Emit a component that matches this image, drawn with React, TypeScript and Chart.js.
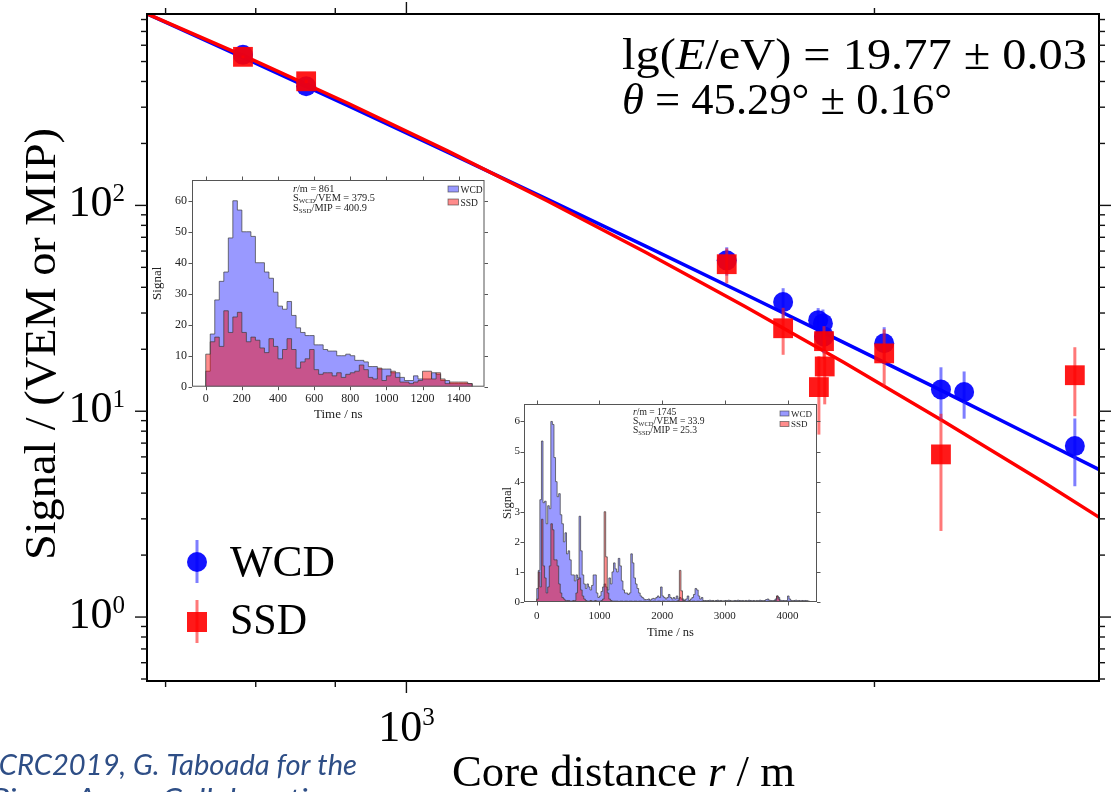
import React, { useEffect, useRef } from "react";
import { Chart, registerables } from "chart.js";

Chart.register(...registerables);

const SERIF = '"Liberation Serif", "DejaVu Serif", "Times New Roman", serif';
const SANS = 'Lato, "Open Sans", "Noto Sans", sans-serif';

// ---------------- main plot values ----------------
const wcdDistance = [785, 862, 1607, 1747, 1840, 1853, 1856, 2029, 2207, 2284, 2691];
const wcdSignal = [539, 379.5, 54.1, 33.9, 27.7, 26.7, 23.1, 21.4, 12.75, 12.4, 6.77];
const wcdError = [8, 7, 8.5, 5.7, 4, 4.5, 4, 4.2, 3.6, 3.2, 2.45];

const ssdDistance = [785, 862, 1607, 1747, 1856, 1858, 1842, 2029, 2207, 2691];
const ssdSignal = [527, 400.9, 51.8, 25.3, 21.9, 16.5, 13.1, 19.1, 6.17, 14.96];
const ssdError = [8, 8, 10, 6.5, 4, 5.7, 5.4, 5.9, 3.55, 5.5];

const fitDistance = [681.4, 792.6, 917.8, 1062.7, 1230.6, 1424.9, 1650, 1910.5, 2212.5, 2562, 2790];
const wcdFitSignal = [851.5, 506.9, 304.1, 181.4, 107.6, 63.43, 37.13, 21.62, 12.52, 7.19, 5.20];
const ssdFitSignal = [851.5, 518.3, 312.7, 183.9, 105.6, 59.2, 32.37, 17.28, 8.99, 4.58, 3.05];

const xLimits = [681, 2789];
const yLimits = [0.489, 851];
const xMajorTicks = [1000];
const xMajorExponents = ["3"];
const xMinorTicks = [700, 800, 900, 2000];
const yMajorTicks = [1, 10, 100];
const yMajorExponents = ["0", "1", "2"];
const yMinorTicks = [0.5, 0.6, 0.7, 0.8, 0.9, 2, 3, 4, 5, 6, 7, 8, 9, 20, 30, 40, 50, 60, 70, 80, 90, 200, 300, 400, 500, 600, 700, 800];

const xTitleParts = ["Core distance ", "r", " / m"];
const yTitleText = "Signal / (VEM or MIP)";
const energyParts = ["lg(", "E", "/eV) = 19.77 ± 0.03"];
const zenithParts = ["θ", " = 45.29° ± 0.16°"];
const legendLabels = ["WCD", "SSD"];
const creditLines = ["ICRC2019, G. Taboada for the", "Pierre Auger Collaboration"];

// ---------------- inset 1 (r = 861 m) ----------------
const inset1BinWidth = 25;
const inset1Wcd = [
  5, 17, 28, 34, 37, 48, 60, 57, 50, 50,
  48.5, 40, 40, 37, 35, 30.5, 26, 25, 27.5, 23,
  19, 17.5, 16.5, 16.5, 13.5, 13.5, 12, 11.5, 11.5, 10,
  10, 10.5, 10, 8.5, 8.5, 8, 6.5, 6.5, 5.7, 5.7,
  5.7, 4.5, 4.5, 3, 2, 2, 3.5, 2.5, 2.5, 2.5,
  4.5, 4, 2, 2, 1, 1, 1, 1, 1,
];
const inset1Ssd = [
  10.5, 14.5, 16, 13, 24.5, 17.5, 22.5, 24, 17.5, 14.5,
  16, 15, 12.5, 11, 15.5, 13, 9, 12, 15.5, 12,
  6, 8, 9, 12, 5.5, 4, 4.5, 4.5, 3.5, 4.5,
  3, 4, 4.5, 5, 7, 5.5, 3, 2.5, 6, 2,
  3.5, 5, 3, 1.5, 1.5, 1, 1.5, 2, 5, 5,
  2.5, 4.5, 2.5, 1, 1.5, 1.5, 1.5, 1.5, 1,
];
const inset1Info = ["861", "379.5", "400.9"];
const inset1XTicks = [0, 200, 400, 600, 800, 1000, 1200, 1400];
const inset1YTicks = [0, 10, 20, 30, 40, 50, 60];

// ---------------- inset 2 (r = 1745 m) ----------------
const inset2BinWidth = 25;
const inset2Wcd = [
  0.45, 1.05, 3.4, 5.35, 3.3, 3.35, 2.6, 3.2, 3.1, 6.0,
  5.9, 4.8, 4.0, 3.5, 3.6, 2.9, 2.6, 2.0, 2.3, 1.6,
  1.7, 1.4, 0.9, 0.9, 0.7, 0.9, 0.8, 2.85, 1.7, 0.9,
  0.6, 0.45, 0.6, 0.5, 0.4, 0.55, 0.9, 0.9, 0.3, 0.15,
  0.2, 0.35, 0.5, 0.6, 0.5, 0.4, 0.8, 0.6, 1.0, 1.3,
  1.1, 1.0, 1.45, 1.2, 0.7, 0.4, 0.3, 0.3, 0.25, 0.3,
  1.6, 1.3, 0.8, 0.6, 0.45, 0.3, 0.2, 0.15, 0.1, 0.08,
  0.08, 0.1, 0.06, 0.1, 0.12, 0.1, 0.15, 0.2, 0.15, 0.5,
  0.2, 0.15, 0.1, 0.15, 0.25, 0.15, 0.1, 0.15, 0.1, 0.2,
  0.1, 0.15, 0.1, 0.1, 0.05, 0.1, 0.2, 0.05, 0.1, 0.15,
  0.25, 0.45, 0.4, 0.2, 0.1, 0.15, 0.05, 0.05, 0.04, 0.05,
  0.06, 0.04, 0.05, 0.03, 0.05, 0.06, 0.04, 0.05, 0.03, 0.04,
  0.05, 0.04, 0.06, 0.05, 0.03, 0.04, 0.05, 0.04, 0.06, 0.05,
  0.04, 0.05, 0.03, 0.05, 0.04, 0.06, 0.05, 0.04, 0.05, 0.03,
  0.05, 0.04, 0.06, 0.05, 0.04, 0.05, 0.08, 0.1, 0.06, 0.05,
  0.04, 0.05, 0.1, 0.2, 0.15, 0.06, 0.05, 0.05, 0.04, 0.05,
  0.2, 0.1, 0.05, 0.04, 0.05, 0.06, 0.04, 0.05, 0.04, 0.05,
  0.04, 0.05, 0.04, 0.03,
];
const inset2Ssd = [
  0.1, 1.0, 0.5, 2.75, 1.2, 0.8, 0.3, 0.5, 1.2, 2.6,
  2.4, 1.4, 1.4, 1.2, 0.6, 0.3, 0.15, 0.1, 0.05, 0.05,
  0.05, 0.03, 0.03, 0.05, 0.05, 0.3, 0.75, 0.8, 0.4, 0.2,
  0.1, 0.05, 0.03, 0.03, 0.05, 0.03, 0.03, 0.05, 0.03, 0.03,
  0.03, 0.05, 0.1, 3.0, 1.5, 0.3, 0.1, 0.05, 0.03, 0.03,
  0.03, 0.03, 0.02, 0.03, 0.03, 0.02, 0.03, 0.03, 0.02, 0.03,
  0.03, 0.02, 0.03, 0.03, 0.02, 0.03, 0.03, 0.02, 0.03, 0.03,
  0.02, 0.03, 0.03, 0.02, 0.03, 0.03, 0.02, 0.03, 0.03, 0.02,
  0.03, 0.03, 0.02, 0.03, 0.03, 0.02, 0.03, 0.03, 0.02, 0.03,
  0.05, 1.05, 0.37, 0.05, 0.03, 0.02, 0.03, 0.03, 0.02, 0.03,
  0.03, 0.02, 0.03, 0.03, 0.02, 0.03, 0.03, 0.02, 0.03, 0.03,
  0.02, 0.03, 0.03, 0.02, 0.03, 0.03, 0.02, 0.03, 0.03, 0.02,
  0.03, 0.03, 0.02, 0.03, 0.03, 0.02, 0.03, 0.03, 0.02, 0.03,
  0.03, 0.02, 0.03, 0.03, 0.02, 0.03, 0.03, 0.02, 0.03, 0.03,
  0.02, 0.03, 0.03, 0.02, 0.03, 0.03, 0.02, 0.03, 0.03, 0.02,
  0.03, 0.03, 0.05, 0.2, 0.1, 0.03, 0.02, 0.03, 0.03, 0.02,
  0.03, 0.03, 0.02, 0.03, 0.03, 0.02, 0.03, 0.03, 0.02, 0.03,
  0.03, 0.02, 0.03, 0.02,
];
const inset2Info = ["1745", "33.9", "25.3"];
const inset2XTicks = [0, 1000, 2000, 3000, 4000];
const inset2YTicks = [0, 1, 2, 3, 4, 5, 6];

// ---------------- layout / style ----------------
const inset1Layout = {
  left: 145, top: 175, width: 345, height: 250,
  axisWidth: 47, axisHeight: 38.3, padTop: 5, padRight: 5.5,
  xMin: -76, xMax: 1543, yMax: 66.7,
  tickFont: 12, titleFont: 13, yTitlePad: 5, xTitlePad: 3, tickPadX: 5, tickPadY: 5,
  infoX: 293, infoY: 192, infoLine: 9.3, infoFont: 10.3,
  legendX: 448, legendY: 186, legendGap: 13, legendFont: 9.5, legendBoxW: 10.5, legendBoxH: 6,
};
const inset2Layout = {
  left: 490, top: 400, width: 335, height: 240,
  axisWidth: 34, axisHeight: 38, padTop: 4, padRight: 8,
  xMin: -203, xMax: 4470, yMax: 6.58,
  tickFont: 11, titleFont: 12.5, yTitlePad: 10, xTitlePad: 0, tickPadX: 8, tickPadY: 4,
  infoX: 633, infoY: 415, infoLine: 8.8, infoFont: 9.6,
  legendX: 780, legendY: 411, legendGap: 10.5, legendFont: 9, legendBoxW: 9, legendBoxH: 5,
};

const BLUE = "rgba(0,0,255,0.92)";
const RED = "rgba(255,0,0,0.9)";
const BLUE_ERR = "rgba(40,40,255,0.6)";
const RED_ERR = "rgba(255,30,30,0.6)";
const HIST_BLUE = "rgba(0,0,255,0.4)";
const HIST_RED = "rgba(255,0,0,0.45)";
const HIST_EDGE = "rgba(60,60,60,0.7)";

type Part = { text: string; font: string; dy?: number };

function drawParts(ctx: any, parts: Part[], x: number, y: number, align: string, targetWidth?: number) {
  ctx.save();
  let total = 0;
  const widths = parts.map((p) => {
    ctx.font = p.font;
    const w = ctx.measureText(p.text).width;
    total += w;
    return w;
  });
  const sx = targetWidth ? targetWidth / total : 1;
  const w = total * sx;
  const x0 = align === "left" ? x : align === "right" ? x - w : x - w / 2;
  ctx.translate(x0, y);
  ctx.scale(sx, 1);
  ctx.textAlign = "left";
  ctx.textBaseline = "alphabetic";
  let cx = 0;
  parts.forEach((p, i) => {
    ctx.font = p.font;
    ctx.fillText(p.text, cx, p.dy || 0);
    cx += widths[i];
  });
  ctx.restore();
}

const serif = (size: number, italic = false) => `${italic ? "italic " : ""}${size}px ${SERIF}`;

const mainDecor = {
  id: "mainDecor",
  beforeDatasetDraw(chart: any, args: any) {
    const ds = chart.data.datasets[args.index];
    if (!ds.errors) return;
    const { ctx, chartArea: a, scales } = chart;
    const ys = scales.y;
    ctx.save();
    ctx.beginPath();
    ctx.rect(a.left, a.top, a.right - a.left, a.bottom - a.top);
    ctx.clip();
    ctx.strokeStyle = ds.errorColor;
    ctx.lineWidth = 3;
    args.meta.data.forEach((pt: any, i: number) => {
      const v = ds.data[i].y;
      const e = ds.errors[i];
      const y1 = ys.getPixelForValue(v + e);
      const y2 = ys.getPixelForValue(Math.max(v - e, 1e-3));
      ctx.beginPath();
      ctx.moveTo(pt.x, y1);
      ctx.lineTo(pt.x, y2);
      ctx.stroke();
    });
    ctx.restore();
  },
  afterDraw(chart: any) {
    const { ctx, chartArea: a, scales } = chart;
    const xs = scales.x;
    const ys = scales.y;
    ctx.save();
    ctx.strokeStyle = "#000";
    ctx.lineWidth = 2;
    ctx.strokeRect(a.left, a.top, a.right - a.left, a.bottom - a.top);
    ctx.lineWidth = 1.4;
    ctx.strokeStyle = "#111";
    const seg = (x1: number, y1: number, x2: number, y2: number) => {
      ctx.beginPath();
      ctx.moveTo(x1, y1);
      ctx.lineTo(x2, y2);
      ctx.stroke();
    };
    yMajorTicks.forEach((v) => {
      const p = ys.getPixelForValue(v);
      seg(a.left - 12, p, a.left, p);
      seg(a.right, p, a.right + 12, p);
    });
    yMinorTicks.forEach((v) => {
      const p = ys.getPixelForValue(v);
      if (p < a.top || p > a.bottom) return;
      seg(a.left - 6, p, a.left, p);
      seg(a.right, p, a.right + 6, p);
    });
    xMajorTicks.forEach((v) => {
      const p = xs.getPixelForValue(v);
      seg(p, a.bottom, p, a.bottom + 12);
      seg(p, a.top - 12, p, a.top);
    });
    xMinorTicks.forEach((v) => {
      const p = xs.getPixelForValue(v);
      seg(p, a.bottom, p, a.bottom + 6);
      seg(p, a.top - 6, p, a.top);
    });
    ctx.fillStyle = "#000";
    yMajorTicks.forEach((v, i) => {
      const p = ys.getPixelForValue(v);
      drawParts(ctx, [
        { text: "10", font: serif(44) },
        { text: yMajorExponents[i], font: serif(25), dy: -15 },
      ], 125, p + 11, "right");
    });
    xMajorTicks.forEach((v, i) => {
      const p = xs.getPixelForValue(v);
      drawParts(ctx, [
        { text: "10", font: serif(44) },
        { text: xMajorExponents[i], font: serif(25), dy: -16 },
      ], p, 741, "center");
    });
    drawParts(ctx, [
      { text: xTitleParts[0], font: serif(44) },
      { text: xTitleParts[1], font: serif(44, true) },
      { text: xTitleParts[2], font: serif(44) },
    ], 452, 786, "left", 343);
    ctx.save();
    ctx.translate(55, 344);
    ctx.rotate(-Math.PI / 2);
    drawParts(ctx, [{ text: yTitleText, font: serif(44) }], 0, 0, "center", 432);
    ctx.restore();
    drawParts(ctx, [
      { text: energyParts[0], font: serif(45) },
      { text: energyParts[1], font: serif(45, true) },
      { text: energyParts[2], font: serif(45) },
    ], 622, 69, "left", 465);
    drawParts(ctx, [
      { text: zenithParts[0], font: serif(45, true) },
      { text: zenithParts[1], font: serif(45) },
    ], 622, 114, "left", 330);
    ctx.lineWidth = 3;
    ctx.strokeStyle = BLUE_ERR;
    seg(197, 540, 197, 583);
    ctx.fillStyle = BLUE;
    ctx.beginPath();
    ctx.arc(197, 562, 10, 0, Math.PI * 2);
    ctx.fill();
    ctx.strokeStyle = RED_ERR;
    seg(197, 600, 197, 643);
    ctx.fillStyle = RED;
    ctx.fillRect(187, 612, 20, 20);
    ctx.fillStyle = "#000";
    drawParts(ctx, [{ text: legendLabels[0], font: serif(44) }], 230, 576, "left", 105);
    drawParts(ctx, [{ text: legendLabels[1], font: serif(44) }], 230, 634, "left", 77);
    ctx.fillStyle = "#2E4E86";
    drawParts(ctx, [{ text: creditLines[0], font: `italic 29px ${SANS}` }], -9, 775, "left", 366);
    drawParts(ctx, [{ text: creditLines[1], font: `italic 29px ${SANS}` }], -9, 809, "left", 350);
    ctx.restore();
  },
};

function MainChart() {
  const ref = useRef<HTMLCanvasElement>(null);
  useEffect(() => {
    const chart = new Chart(ref.current as any, {
      type: "scatter",
      data: {
        datasets: [
          {
            label: "SSD",
            data: ssdDistance.map((r, i) => ({ x: r, y: ssdSignal[i] })),
            pointStyle: "rect",
            pointRadius: 14,
            pointHoverRadius: 14,
            backgroundColor: RED,
            borderWidth: 0,
            errors: ssdError,
            errorColor: RED_ERR,
          } as any,
          {
            label: "WCD",
            data: wcdDistance.map((r, i) => ({ x: r, y: wcdSignal[i] })),
            pointStyle: "circle",
            pointRadius: 10,
            pointHoverRadius: 10,
            backgroundColor: BLUE,
            borderWidth: 0,
            errors: wcdError,
            errorColor: BLUE_ERR,
          } as any,
          {
            label: "SSD fit",
            data: fitDistance.map((r, i) => ({ x: r, y: ssdFitSignal[i] })),
            showLine: true,
            pointRadius: 0,
            borderColor: "#ff0000",
            borderWidth: 3.5,
            fill: false,
          } as any,
          {
            label: "WCD fit",
            data: fitDistance.map((r, i) => ({ x: r, y: wcdFitSignal[i] })),
            showLine: true,
            pointRadius: 0,
            borderColor: "#0000ff",
            borderWidth: 3.5,
            fill: false,
          } as any,
        ],
      },
      options: {
        responsive: false,
        animation: false,
        events: [],
        layout: { padding: { left: 0, top: 12, right: 5, bottom: 0 } },
        plugins: { legend: { display: false }, tooltip: { enabled: false } },
        scales: {
          x: {
            type: "logarithmic",
            min: xLimits[0],
            max: xLimits[1],
            grid: { display: false, drawTicks: false },
            ticks: { display: false },
            border: { display: false },
            afterFit: (s: any) => { s.height = 111; s.paddingLeft = 0; s.paddingRight = 0; },
          },
          y: {
            type: "logarithmic",
            min: yLimits[0],
            max: yLimits[1],
            grid: { display: false, drawTicks: false },
            ticks: { display: false },
            border: { display: false },
            afterFit: (s: any) => { s.width = 147; s.paddingTop = 0; s.paddingBottom = 0; },
          },
        },
      } as any,
      plugins: [mainDecor],
    });
    return () => chart.destroy();
  }, []);
  return (
    <canvas
      ref={ref}
      width={1113}
      height={792}
      style={{ position: "absolute", left: 0, top: 0, width: 1113, height: 792 }}
    />
  );
}

function stepPoints(values: number[], binWidth: number) {
  const pts = [{ x: 0, y: 0 }];
  values.forEach((v, i) => pts.push({ x: i * binWidth, y: v }));
  pts.push({ x: values.length * binWidth, y: 0 });
  return pts;
}

function HistInset({ layout, wcd, ssd, binWidth, info, xTicks, yTicks }: any) {
  const ref = useRef<HTMLCanvasElement>(null);
  useEffect(() => {
    const L = layout;
    const ox = L.left;
    const oy = L.top;
    const decor = {
      id: "insetDecor",
      beforeDraw(chart: any) {
        const { ctx, chartArea: a } = chart;
        ctx.save();
        ctx.fillStyle = "#fff";
        ctx.fillRect(a.left, a.top, a.right - a.left, a.bottom - a.top);
        ctx.restore();
      },
      afterDraw(chart: any) {
        const { ctx, chartArea: a, scales } = chart;
        const xs = scales.x;
        const ys = scales.y;
        ctx.save();
        ctx.strokeStyle = "#555";
        ctx.lineWidth = 1;
        ctx.strokeRect(a.left + 0.5, a.top + 0.5, a.right - a.left - 1, a.bottom - a.top - 1);
        const seg = (x1: number, y1: number, x2: number, y2: number) => {
          ctx.beginPath();
          ctx.moveTo(x1, y1);
          ctx.lineTo(x2, y2);
          ctx.stroke();
        };
        xTicks.forEach((v: number) => {
          const p = Math.round(xs.getPixelForValue(v)) + 0.5;
          seg(p, a.bottom, p, a.bottom + 3.5);
          seg(p, a.top, p, a.top - 3.5);
        });
        yTicks.forEach((v: number) => {
          const p = Math.round(ys.getPixelForValue(v)) + 0.5;
          seg(a.left, p, a.left - 3.5, p);
          seg(a.right, p, a.right + 3.5, p);
        });
        ctx.fillStyle = "#222";
        const fs = L.infoFont;
        const sub = fs * 0.68;
        const ix = L.infoX - ox;
        const iy = L.infoY - oy;
        drawParts(ctx, [
          { text: "r", font: serif(fs, true) },
          { text: "/m = " + info[0], font: serif(fs) },
        ], ix, iy, "left");
        drawParts(ctx, [
          { text: "S", font: serif(fs) },
          { text: "WCD", font: serif(sub), dy: fs * 0.2 },
          { text: "/VEM = " + info[1], font: serif(fs) },
        ], ix, iy + L.infoLine, "left");
        drawParts(ctx, [
          { text: "S", font: serif(fs) },
          { text: "SSD", font: serif(sub), dy: fs * 0.2 },
          { text: "/MIP = " + info[2], font: serif(fs) },
        ], ix, iy + 2 * L.infoLine, "left");
        const items = [
          { label: legendLabels[0], color: HIST_BLUE },
          { label: legendLabels[1], color: HIST_RED },
        ];
        items.forEach((it, i) => {
          const bx = L.legendX - ox;
          const by = L.legendY - oy + i * L.legendGap;
          ctx.fillStyle = it.color;
          ctx.fillRect(bx, by, L.legendBoxW, L.legendBoxH);
          ctx.strokeStyle = HIST_EDGE;
          ctx.lineWidth = 0.8;
          ctx.strokeRect(bx, by, L.legendBoxW, L.legendBoxH);
          ctx.fillStyle = "#222";
          drawParts(ctx, [{ text: it.label, font: serif(L.legendFont) }], bx + L.legendBoxW + 2, by + L.legendBoxH + 0.5, "left");
        });
        ctx.restore();
      },
    };
    const chart = new Chart(ref.current as any, {
      type: "line",
      data: {
        datasets: [
          {
            label: "WCD",
            data: stepPoints(wcd, binWidth),
            stepped: true,
            fill: "origin",
            backgroundColor: HIST_BLUE,
            borderColor: HIST_EDGE,
            borderWidth: 1,
            pointRadius: 0,
            order: 2,
          } as any,
          {
            label: "SSD",
            data: stepPoints(ssd, binWidth),
            stepped: true,
            fill: "origin",
            backgroundColor: HIST_RED,
            borderColor: HIST_EDGE,
            borderWidth: 1,
            pointRadius: 0,
            order: 1,
          } as any,
        ],
      },
      options: {
        responsive: false,
        animation: false,
        events: [],
        layout: { padding: { left: 0, top: L.padTop, right: L.padRight, bottom: 0 } },
        plugins: { legend: { display: false }, tooltip: { enabled: false } },
        scales: {
          x: {
            type: "linear",
            min: L.xMin,
            max: L.xMax,
            grid: { display: false, drawTicks: false },
            border: { display: false },
            afterBuildTicks: (s: any) => { s.ticks = xTicks.map((v: number) => ({ value: v })); },
            ticks: {
              maxRotation: 0,
              autoSkip: false,
              padding: L.tickPadX,
              color: "#222",
              font: { family: SERIF, size: L.tickFont },
              callback: (v: any) => String(v),
            },
            title: {
              display: true,
              text: "Time / ns",
              color: "#222",
              font: { family: SERIF, size: L.titleFont },
              padding: { top: 0, bottom: L.xTitlePad },
            },
            afterFit: (s: any) => { s.height = L.axisHeight; s.paddingLeft = 0; s.paddingRight = 0; },
          },
          y: {
            type: "linear",
            min: 0,
            max: L.yMax,
            grid: { display: false, drawTicks: false },
            border: { display: false },
            afterBuildTicks: (s: any) => { s.ticks = yTicks.map((v: number) => ({ value: v })); },
            ticks: {
              autoSkip: false,
              padding: L.tickPadY,
              color: "#222",
              font: { family: SERIF, size: L.tickFont },
              callback: (v: any) => String(v),
            },
            title: {
              display: true,
              text: "Signal",
              color: "#222",
              font: { family: SERIF, size: L.titleFont },
              padding: { top: L.yTitlePad, bottom: 0 },
            },
            afterFit: (s: any) => { s.width = L.axisWidth; s.paddingTop = 0; s.paddingBottom = 0; },
          },
        },
      } as any,
      plugins: [decor],
    });
    return () => chart.destroy();
  }, [layout, wcd, ssd, binWidth, info, xTicks, yTicks]);
  return (
    <canvas
      ref={ref}
      width={layout.width}
      height={layout.height}
      style={{ position: "absolute", left: layout.left, top: layout.top, width: layout.width, height: layout.height }}
    />
  );
}

export default function App() {
  return (
    <div style={{ position: "absolute", left: 0, top: 0, width: 1113, height: 792, overflow: "hidden", background: "#fff" }}>
      <MainChart />
      <HistInset layout={inset1Layout} wcd={inset1Wcd} ssd={inset1Ssd} binWidth={inset1BinWidth} info={inset1Info} xTicks={inset1XTicks} yTicks={inset1YTicks} />
      <HistInset layout={inset2Layout} wcd={inset2Wcd} ssd={inset2Ssd} binWidth={inset2BinWidth} info={inset2Info} xTicks={inset2XTicks} yTicks={inset2YTicks} />
    </div>
  );
}
